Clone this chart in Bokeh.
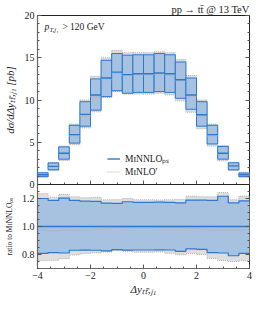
import numpy as np
from bokeh.plotting import figure
from bokeh.layouts import column
from bokeh.models import (Range1d, LinearAxis, SingleIntervalTicker, Label, Legend,
                          LegendItem, PrintfTickFormatter, CustomJSTickFormatter)
from bokeh.embed import file_html
from bokeh.resources import INLINE

# ---------------- data ----------------
bin_edges = [-4.0, -3.6, -3.2, -2.8, -2.4, -2.0, -1.6, -1.2, -0.8, -0.4, 0.0,
             0.4, 0.8, 1.2, 1.6, 2.0, 2.4, 2.8, 3.2, 3.6, 4.0]
minnlo    = [1.15, 2.15, 3.7, 5.9, 8.3, 10.6, 12.6, 13.3, 13.0, 13.1,
             13.1, 13.2, 13.1, 12.4, 10.6, 8.25, 5.9, 3.7, 2.2, 1.15]
minnlo_up = [1.38, 2.55, 4.45, 7.0, 9.8, 12.5, 14.7, 15.5, 15.3, 15.35,
             15.35, 15.5, 15.35, 14.5, 12.6, 9.8, 7.0, 4.5, 2.57, 1.36]
minnlo_lo = [0.93, 1.75, 3.0, 4.9, 6.9, 8.8, 10.4, 11.1, 10.8, 10.9,
             10.9, 11.0, 10.9, 10.2, 8.9, 6.9, 4.8, 3.0, 1.74, 0.93]
minlo     = [1.12, 2.08, 3.6, 5.75, 8.1, 10.4, 12.4, 13.15, 12.9, 13.0,
             13.0, 13.05, 12.95, 12.25, 10.45, 8.1, 5.75, 3.6, 2.14, 1.12]
minlo_up  = [1.42, 2.6, 4.55, 7.15, 10.0, 12.8, 15.0, 15.85, 15.6, 15.6,
             15.6, 15.7, 15.6, 14.8, 12.9, 10.0, 7.15, 4.6, 2.62, 1.4]
minlo_lo  = [0.87, 1.63, 2.85, 4.7, 6.7, 8.6, 10.3, 11.0, 10.7, 10.7,
             10.7, 10.8, 10.6, 9.9, 8.55, 6.6, 4.55, 2.8, 1.65, 0.87]

# ---------------- style ----------------
BLUE = "#2a78d2"
BLUE_FILL = "#a6c2e0"
GRAY_FILL = "#dedede"
GRAY_LINE = "#b0b0b0"
FONT = "Liberation Serif"
TXT = "#222222"

left = bin_edges[:-1]
right = bin_edges[1:]
FW = 212
BL = 32
BR = 6
OVER = 8

def style(fig):
    fig.grid.visible = False
    fig.outline_line_color = "#222222"
    fig.outline_line_width = 1
    for ax in fig.axis:
        ax.axis_line_color = "#666666"
        ax.axis_line_width = 1.2
        ax.major_tick_line_color = "#555555"
        ax.minor_tick_line_color = "#555555"
        ax.major_tick_in = 4
        ax.major_tick_out = 0
        ax.minor_tick_in = 2
        ax.minor_tick_out = 0
        ax.major_label_text_font = FONT
        ax.major_label_text_font_size = "10px"
        ax.major_label_text_color = TXT
        ax.axis_label_text_font = FONT
        ax.axis_label_text_color = TXT
        ax.major_label_standoff = 3

def hide_labels(ax):
    ax.formatter = CustomJSTickFormatter(code="return '';")
    ax.major_label_text_font_size = "1px"
    ax.major_label_standoff = 0

# ---------------- top panel ----------------
p = figure(frame_width=FW, frame_height=169, x_range=Range1d(-4, 4), y_range=Range1d(0, 20),
           output_backend="svg", toolbar_location=None,
           min_border_left=BL, min_border_right=BR, min_border_top=11, min_border_bottom=OVER)
p.title.text = "pp → tt̄ @ 13 TeV"
p.title.align = "right"
p.title.text_font = FONT
p.title.text_font_style = "normal"
p.title.text_font_size = "10.5px"
p.title.text_color = TXT
p.title.standoff = 2
p.title.offset = 0

p.quad(left=left, right=right, top=minlo_up, bottom=minlo_lo, fill_color=GRAY_FILL,
       line_color=GRAY_LINE, line_dash="1 1", line_width=1)
p.quad(left=left, right=right, top=minnlo_up, bottom=minnlo_lo, fill_color=BLUE_FILL,
       line_color=BLUE, line_width=1)
r_minlo = p.segment(x0=left, x1=right, y0=minlo, y1=minlo, line_color=GRAY_LINE,
                    line_dash="1 1", line_width=1.2)
r_minnlo = p.segment(x0=left, x1=right, y0=minnlo, y1=minnlo, line_color=BLUE, line_width=1.4)

p.yaxis.ticker = SingleIntervalTicker(interval=5, num_minor_ticks=5)
p.yaxis.axis_label = "dσ/dΔyₜₜ̄,ⱼ₁ [pb]"
p.yaxis.axis_label_text_font_style = "italic"
p.yaxis.axis_label_text_font_size = "11px"
p.yaxis.axis_label_standoff = 6
p.xaxis.ticker = SingleIntervalTicker(interval=2, num_minor_ticks=4)

rax = LinearAxis(ticker=SingleIntervalTicker(interval=5, num_minor_ticks=5))
p.add_layout(rax, "right")
style(p)
hide_labels(rax)
rax.axis_line_color = None
hide_labels(p.xaxis[0])

p.add_layout(Label(x=-3.74, y=18.6, text="p", text_font=FONT, text_font_style="italic",
                   text_font_size="9.5px", text_baseline="middle", text_color=TXT))
p.add_layout(Label(x=-3.74, y=18.6, x_offset=5, y_offset=-2, text="T,j₁", text_font=FONT,
                   text_font_style="italic", text_font_size="6.5px", text_baseline="middle",
                   text_color=TXT))
p.add_layout(Label(x=-3.74, y=18.6, x_offset=18, text="> 120 GeV", text_font=FONT,
                   text_font_size="9.5px", text_baseline="middle", text_color=TXT))

legend = Legend(items=[LegendItem(label="MɪNNLOₚₛ", renderers=[r_minnlo]),
                       LegendItem(label="MɪNLO′", renderers=[r_minlo])],
                location=(70, 6), background_fill_alpha=0, border_line_color=None,
                padding=0, margin=0, spacing=0, glyph_width=13, glyph_height=13,
                label_height=13, label_standoff=5, label_text_font=FONT,
                label_text_font_size="9.5px", label_text_color=TXT)
p.add_layout(legend)

# ---------------- ratio panel ----------------
c = np.array(minnlo)
def stepy(v):
    v = list(v)
    return v + [v[-1]]

r_nn_up = np.array(minnlo_up) / c
r_nn_lo = np.array(minnlo_lo) / c
r_nn = c / c
r_ml = np.array(minlo) / c
r_ml_up = np.array(minlo_up) / c
r_ml_lo = np.array(minlo_lo) / c

q = figure(frame_width=FW, frame_height=84, x_range=p.x_range, y_range=Range1d(0.7, 1.3),
           output_backend="svg", toolbar_location=None, margin=(-OVER, 0, 0, 0),
           min_border_left=BL, min_border_right=BR, min_border_top=0, min_border_bottom=26)
q.border_fill_alpha = 0
q.varea_step(x=bin_edges, y1=stepy(r_ml_lo), y2=stepy(r_ml_up), step_mode="after",
             fill_color=GRAY_FILL)
q.step(x=bin_edges, y=stepy(r_ml_up), mode="after", line_color=GRAY_LINE, line_dash="1 1")
q.step(x=bin_edges, y=stepy(r_ml_lo), mode="after", line_color=GRAY_LINE, line_dash="1 1")
q.varea_step(x=bin_edges, y1=stepy(r_nn_lo), y2=stepy(r_nn_up), step_mode="after",
             fill_color=BLUE_FILL)
q.step(x=bin_edges, y=stepy(r_nn_up), mode="after", line_color=BLUE, line_width=1.2)
q.step(x=bin_edges, y=stepy(r_nn_lo), mode="after", line_color=BLUE, line_width=1.2)
q.step(x=bin_edges, y=stepy(r_ml), mode="after", line_color=GRAY_LINE, line_dash="1 1",
       line_width=1.2)
q.step(x=bin_edges, y=stepy(r_nn), mode="after", line_color=BLUE, line_width=1.4)

q.yaxis.ticker = SingleIntervalTicker(interval=0.2, num_minor_ticks=4)
q.yaxis.formatter = PrintfTickFormatter(format="%.1f")
q.yaxis.axis_label = "ratio to MɪNNLOₚₛ"
q.yaxis.axis_label_text_font_size = "7.5px"
q.yaxis.axis_label_standoff = 5
q.xaxis.ticker = SingleIntervalTicker(interval=2, num_minor_ticks=4)
q.xaxis.formatter = CustomJSTickFormatter(
    code="return tick < 0 ? '\u2212' + Math.abs(tick) : '' + tick;")
q.xaxis.axis_label = "Δyₜₜ̄,ⱼ₁"
q.xaxis.axis_label_text_font_style = "italic"
q.xaxis.axis_label_text_font_size = "11px"
q.xaxis.axis_label_standoff = 1
rax2 = LinearAxis(ticker=SingleIntervalTicker(interval=0.2, num_minor_ticks=4))
q.add_layout(rax2, "right")
style(q)
hide_labels(rax2)
rax2.axis_line_color = None
q.yaxis[0].axis_label_text_font_style = "normal"

layout = column(p, q, spacing=0)
open("out.html", "w").write(file_html(layout, INLINE))
